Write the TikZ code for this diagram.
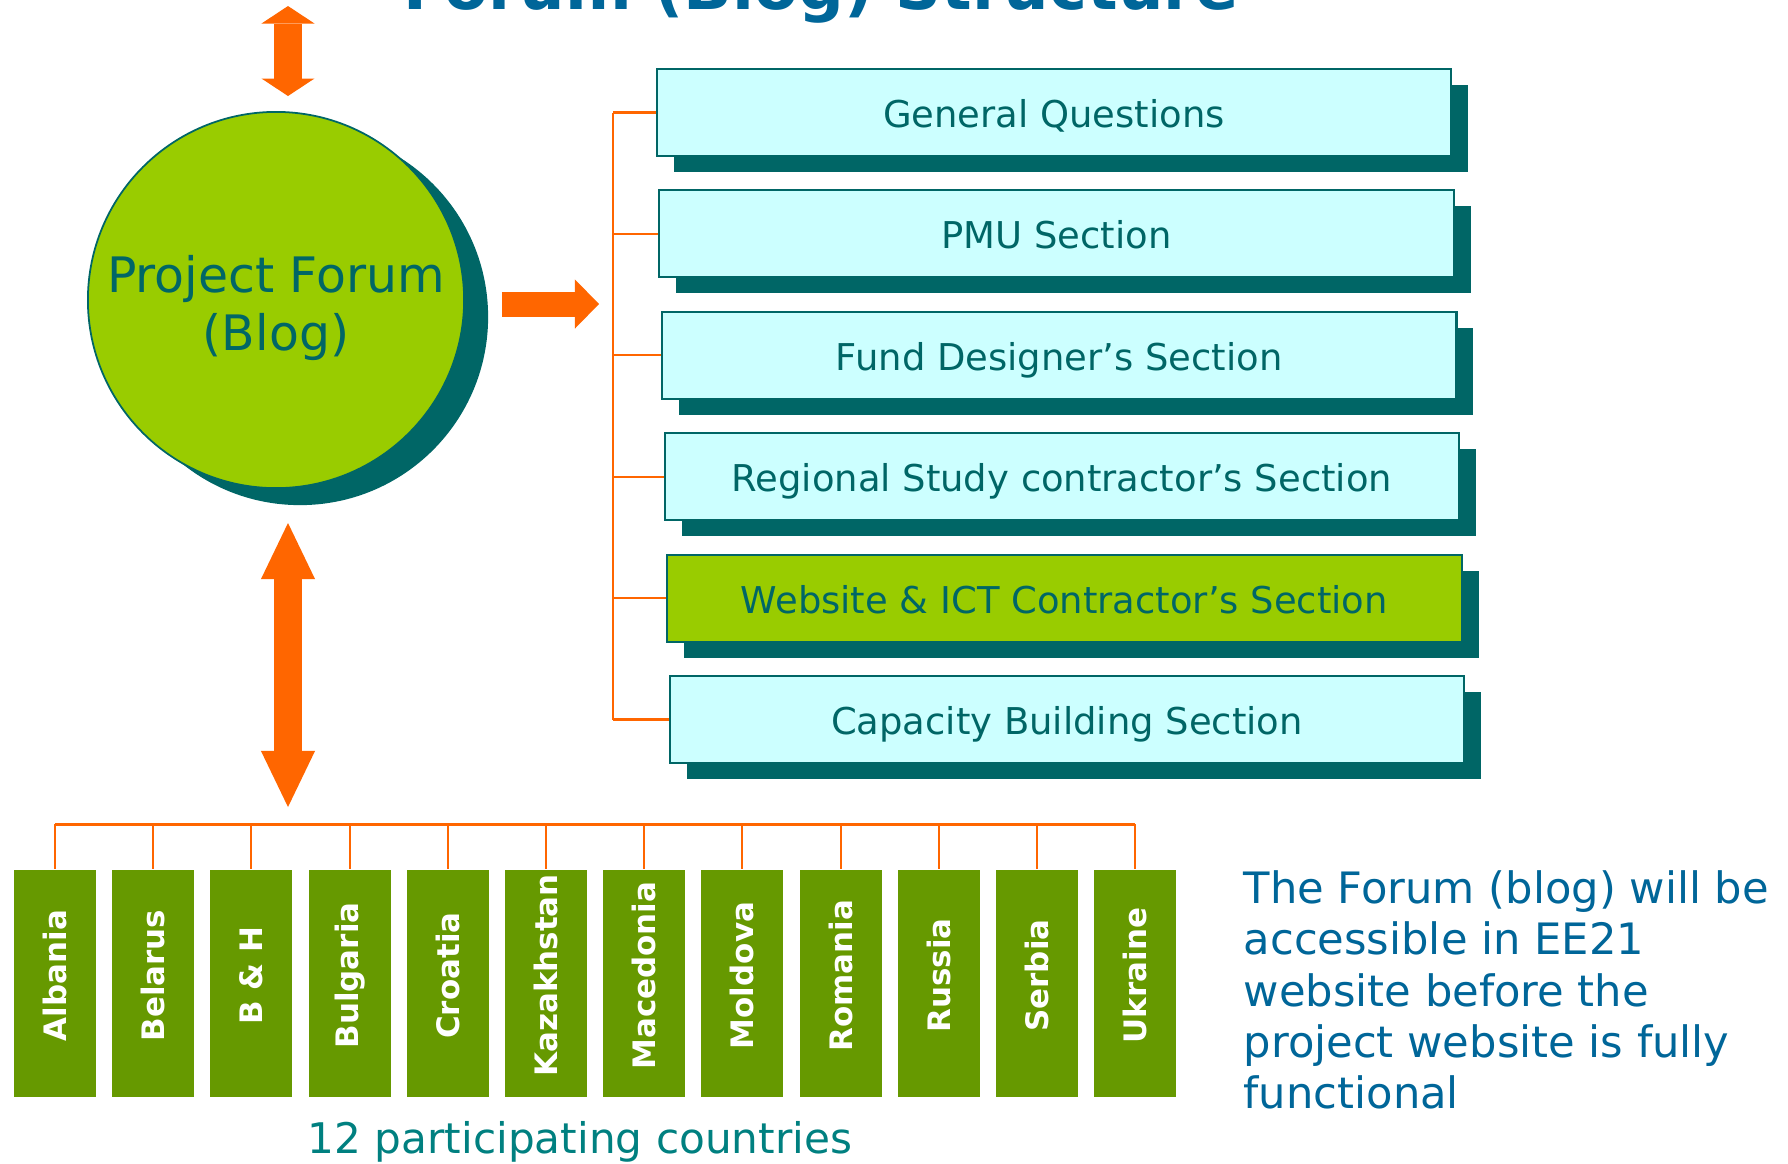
\documentclass[tikz,border=0pt]{standalone}
\usepackage{fontspec}
\setmainfont{DejaVu Sans}
\usepackage{graphicx}
\usetikzlibrary{arrows.meta,shadows,positioning}

\definecolor{forumteal}{HTML}{006666}
\definecolor{forumlime}{HTML}{99CC00}
\definecolor{sectioncyan}{HTML}{CCFFFF}
\definecolor{linkorange}{HTML}{FF6600}
\definecolor{countrygreen}{HTML}{669900}
\definecolor{noteblue}{HTML}{006699}
\definecolor{captionteal}{HTML}{008080}

\tikzset{
	forum/.style={circle, draw=forumteal, line width=0.5pt, fill=forumlime, minimum size=3.76cm, inner sep=0pt,
		text=forumteal, align=center, font=\fontsize{13.9}{16.5}\selectfont,
		general shadow={fill=forumteal, shadow xshift=0.24cm, shadow yshift=-0.17cm}},
	section/.style={rectangle, draw=forumteal, line width=0.6pt, fill=sectioncyan, minimum width=7.94cm, minimum height=0.87cm,
		inner sep=0pt, text height=0.30cm, text depth=0cm, text=forumteal, font=\fontsize{10.5}{12}\selectfont,
		general shadow={fill=forumteal, shadow xshift=0.17cm, shadow yshift=-0.16cm}},
	country/.style={rectangle, fill=countrygreen, minimum width=0.82cm, minimum height=2.27cm, inner sep=0pt,
		text depth=0.16cm, text=white, font=\fontsize{8.8}{10}\selectfont\bfseries},
	link/.style={draw=linkorange, line width=0.6pt},
	bigarrow/.style={draw=linkorange, line width=0.28cm},
}

\begin{document}
\begin{tikzpicture}[x=0.01cm, y=-0.01cm]
			%%%%% START %%%%%
			
			\clip (0,0) rectangle (1788,1163);
			\fill[white] (0,0) rectangle (1788,1163);
			
			\node[anchor=base, text=noteblue, font=\fontsize{18.2}{20}\selectfont\bfseries] (title) at (821,9) {Forum (Blog) Structure};
			
			\node[forum] (forum) at (276,300) {\rule{0pt}{0.53cm}Project Forum\\(Blog)};
			
			%% sections
			\foreach \name/\fc/\txt [count=\i from 0] in {gen/sectioncyan/General Questions, pmu/sectioncyan/PMU Section,
				fund/sectioncyan/Fund Designer’s Section, study/sectioncyan/Regional Study contractor’s Section,
				ict/forumlime/Website \& ICT Contractor’s Section, capacity/sectioncyan/Capacity Building Section}
				\node[section, fill=\fc] (\name) at ({1054+2.6*\i}, {112.5+121.4*\i}) {\txt};
			
			\coordinate (trunk) at (613,0);
			\draw[link] (gen.west -| trunk) -- (capacity.west -| trunk);
			\foreach \name in {gen,pmu,fund,study,ict,capacity}
				\draw[link] (\name.west -| trunk) -- (\name.west);
			
			%% countries
			\foreach \name/\txt [count=\i from 0] in {alb/Albania, bel/Belarus, bih/B \& H, bgr/Bulgaria, hrv/Croatia, kaz/Kazakhstan,
				mkd/Macedonia, mda/Moldova, rou/Romania, rus/Russia, srb/Serbia, ukr/Ukraine}
				\node[country] (\name) at ({55+98.2*\i}, 983.5) {\rotatebox{90}{\txt}};
			
			\coordinate (bus) at (0,824);
			\draw[link, line width=0.85pt] (alb.north |- bus) -- (ukr.north |- bus);
			\foreach \name in {alb,bel,bih,bgr,hrv,kaz,mkd,mda,rou,rus,srb,ukr}
				\draw[link] (\name.north |- bus) -- (\name.north);
			
			%% block arrows
			\path (forum.north) ++(12,-15) coordinate (upfrom) ++(0,-90) coordinate (upto);
			\draw[bigarrow, {Triangle[length=0.175cm,width=0.53cm,line width=0pt]}-{Triangle[length=0.175cm,width=0.53cm,line width=0pt]}] (upfrom) -- (upto);
			
			\path (forum.south) ++(12,34) coordinate (downfrom);
			\path (forum.south |- bus) ++(12,-17) coordinate (downto);
			\draw[bigarrow, {Triangle[length=0.56cm,width=0.54cm,line width=0pt]}-{Triangle[length=0.56cm,width=0.54cm,line width=0pt]}] (downfrom) -- (downto);
			
			\path (forum.east) ++(37,4) coordinate (rightfrom);
			\path (forum.east -| trunk) ++(-14,4) coordinate (rightto);
			\draw[bigarrow, line width=0.25cm, -{Triangle[length=0.24cm,width=0.49cm,line width=0pt]}] (rightfrom) -- (rightto);
			
			\node[anchor=north west, inner sep=0pt, align=left, text=noteblue, font=\fontsize{12.3}{14.6}\selectfont] (note) at (1243,870)
				{The Forum (blog) will be\\accessible in EE21\\website before the\\project website is fully\\functional};
			
			\node[anchor=base, text=captionteal, font=\fontsize{12}{14}\selectfont] (caption) at (580,1153) {12 participating countries};
			
			%%%%% END %%%%%
\end{tikzpicture}
\end{document}
